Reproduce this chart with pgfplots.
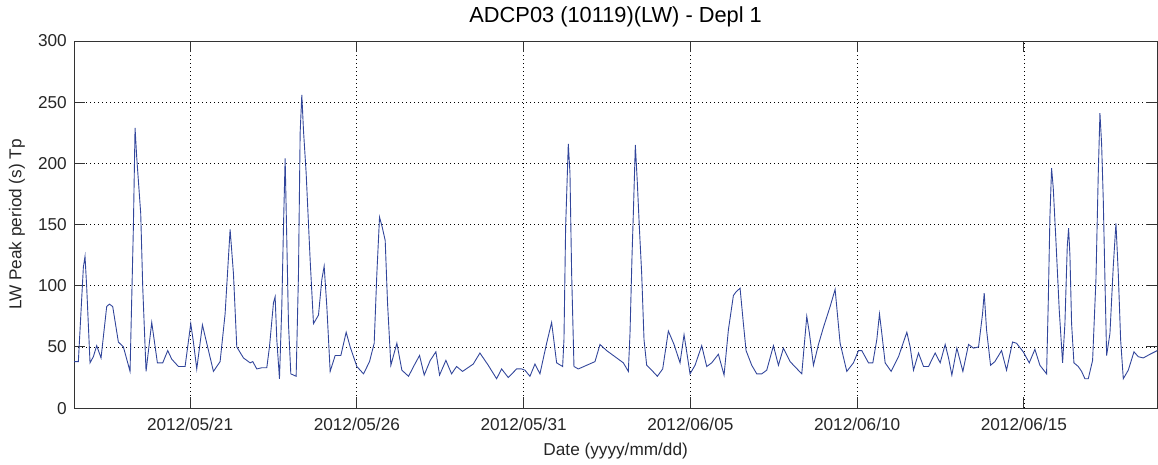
\documentclass[border=0pt]{standalone}
\usepackage{fontspec}
\setmainfont{Liberation Sans}
\usepackage{pgfplots}
\pgfplotsset{compat=1.18}
\definecolor{tpblue}{RGB}{50,70,155}
\begin{document}
\begin{tikzpicture}
\begin{axis}[
  scale only axis,
  width=1083bp, height=367bp,
  xmin=17.52, xmax=50.0, ymin=0, ymax=300,
  xtick={21,26,31,36,41,46},
  xticklabels={2012/05/21,2012/05/26,2012/05/31,2012/06/05,2012/06/10,2012/06/15},
  ytick={0,50,...,300},
  tick align=inside,
  major tick length=11bp,
  tick style={black!80, line width=1bp},
  grid=major,
  major grid style={black, line width=0.7bp, dash pattern=on 1bp off 3bp},
  axis line style={black!80, line width=0.9bp},
  /pgf/number format/assume math mode=true,
  tick label style={font=\fontsize{17.2bp}{20bp}\selectfont, text=black!85},
  xticklabel style={inner sep=0pt, anchor=north, yshift=-10bp},
  yticklabel style={inner sep=0pt, anchor=east, xshift=-7bp},
  xlabel={Date (yyyy/mm/dd)},
  ylabel={LW Peak period (s) Tp},
  label style={font=\fontsize{17.2bp}{20bp}\selectfont, text=black!85},
  xlabel style={at={(axis description cs:0.5,0)}, anchor=north, inner sep=0pt, yshift=-34.5bp},
  ylabel style={at={(axis description cs:0,0.5)}, anchor=center, inner sep=0pt, yshift=57bp},
  title={ADCP03 (10119)(LW) - Depl 1},
  title style={font=\fontsize{21.8bp}{24bp}\selectfont, at={(axis description cs:0.5,1)}, anchor=base, inner sep=0pt, yshift=12.7bp},
]
\addplot[tpblue, line width=0.9bp, sharp plot, mark=none] coordinates {
(17.52,38)(17.65,38)(17.80,115)(17.85,124)(17.90,99)(18.00,37)(18.10,42)(18.20,51)
(18.33,41)(18.50,83)(18.58,85)(18.68,83)(18.85,54)(19.00,50)(19.20,30)(19.30,148)
(19.35,229)(19.40,205)(19.52,159)(19.58,99)(19.68,30)(19.85,70)(20.02,37)(20.18,37)
(20.33,47)(20.45,40)(20.65,34)(20.85,34)(21.02,69)(21.10,54)(21.20,32)(21.37,68)
(21.50,53)(21.70,30)(21.90,38)(22.05,77)(22.20,146)(22.30,110)(22.40,50)(22.60,41)
(22.80,37)(22.88,38)(23.00,32)(23.15,33)(23.30,33)(23.38,50)(23.50,86)(23.55,91)
(23.60,56)(23.68,24)(23.75,83)(23.80,148)(23.85,204)(23.90,137)(23.95,69)(24.02,28)
(24.18,26)(24.25,110)(24.30,225)(24.35,256)(24.40,227)(24.48,192)(24.60,121)(24.70,69)
(24.85,76)(24.95,105)(25.02,116)(25.10,83)(25.20,30)(25.35,43)(25.52,43)(25.68,62)
(25.80,50)(26.00,34)(26.20,28)(26.38,38)(26.52,53)(26.60,110)(26.68,156)(26.76,148)
(26.85,137)(26.92,86)(27.02,35)(27.20,53)(27.35,31)(27.55,26)(27.72,35)(27.88,43)
(28.02,27)(28.20,39)(28.37,46)(28.48,27)(28.67,39)(28.84,28)(28.99,34)(29.17,30)
(29.49,36)(29.69,45)(29.94,35)(30.19,24)(30.34,32)(30.54,25)(30.79,32)(30.94,32)
(31.04,31)(31.19,26)(31.34,36)(31.49,28)(31.69,53)(31.84,70)(31.99,37)(32.17,34)
(32.21,56)(32.26,148)(32.34,216)(32.39,192)(32.44,110)(32.51,34)(32.64,32)(32.89,35)
(33.14,38)(33.29,52)(33.49,47)(33.79,41)(33.99,37)(34.14,30)(34.19,61)(34.25,124)
(34.29,159)(34.35,215)(34.41,184)(34.47,148)(34.54,110)(34.61,56)(34.69,35)(34.84,31)
(35.01,26)(35.17,32)(35.34,63)(35.51,52)(35.69,37)(35.81,60)(35.89,46)(35.99,28)
(36.14,35)(36.34,51)(36.49,34)(36.64,37)(36.84,44)(37.01,27)(37.14,64)(37.29,92)
(37.37,95)(37.49,98)(37.59,69)(37.67,47)(37.84,35)(37.99,28)(38.14,28)(38.29,31)
(38.49,51)(38.64,35)(38.79,49)(38.99,38)(39.34,28)(39.41,50)(39.49,75)(39.57,61)
(39.69,35)(39.84,52)(39.99,66)(40.19,83)(40.34,97)(40.49,53)(40.69,30)(40.89,37)
(41.04,47)(41.14,47)(41.34,37)(41.47,37)(41.59,56)(41.67,77)(41.74,61)(41.84,37)
(42.02,30)(42.24,42)(42.39,54)(42.49,62)(42.59,50)(42.69,31)(42.84,45)(42.99,34)
(43.14,34)(43.34,45)(43.49,37)(43.64,52)(43.74,41)(43.84,27)(43.99,49)(44.17,30)
(44.34,52)(44.49,49)(44.64,50)(44.76,77)(44.81,94)(44.88,64)(45.00,35)(45.13,38)
(45.33,47)(45.48,31)(45.66,54)(45.78,53)(45.98,46)(46.16,37)(46.33,48)(46.48,35)
(46.68,28)(46.73,86)(46.78,156)(46.83,196)(46.88,180)(46.96,137)(47.06,80)(47.16,37)
(47.23,69)(47.30,132)(47.34,147)(47.38,125)(47.43,69)(47.50,37)(47.63,34)(47.73,30)
(47.83,24)(47.93,24)(48.06,39)(48.16,105)(48.23,192)(48.28,241)(48.33,216)(48.38,170)
(48.43,105)(48.48,43)(48.58,61)(48.68,116)(48.76,151)(48.83,110)(48.90,56)(48.98,24)
(49.13,31)(49.30,46)(49.43,42)(49.58,41)(49.78,44)(50.00,47)
};
\coordinate (LL) at (rel axis cs:0,0);
\coordinate (UR) at (rel axis cs:1,1);
\end{axis}
\pgfresetboundingbox
\useasboundingbox ([shift={(-74bp,-56bp)}]LL) rectangle ([shift={(0.7bp,41bp)}]UR);
\end{tikzpicture}
\end{document}
